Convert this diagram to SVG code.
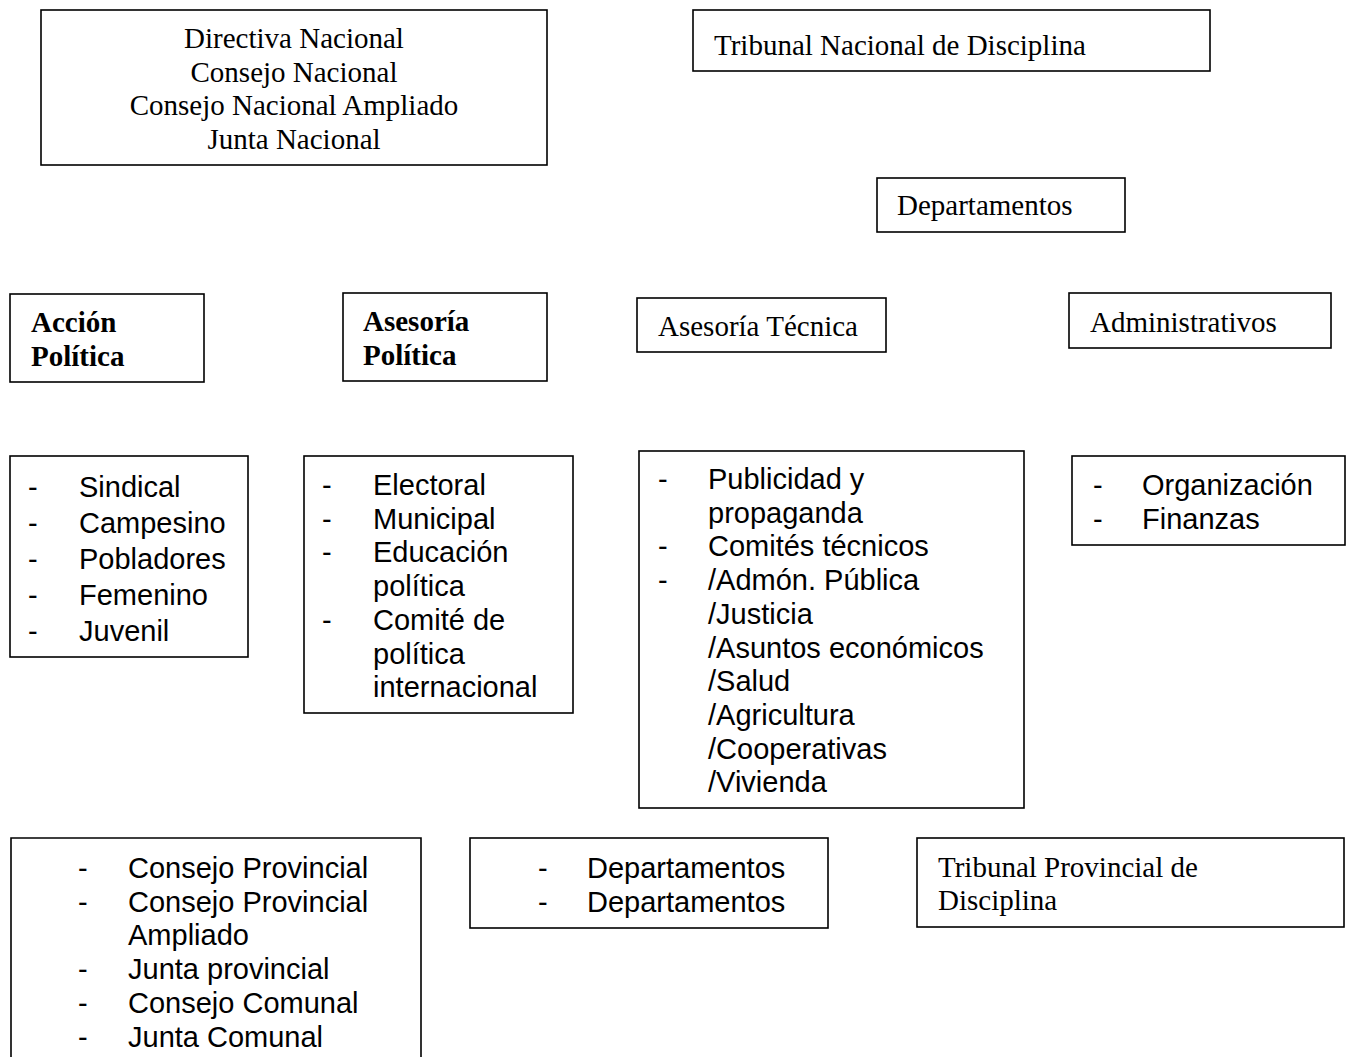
<svg xmlns="http://www.w3.org/2000/svg" width="1346" height="1057" viewBox="0 0 1346 1057">
<style>
.box{fill:#fff;stroke:#000;stroke-width:1.6}
.tr{font-family:"Liberation Serif","Times New Roman",serif;font-size:29px;fill:#000}
.trb{font-family:"Liberation Serif","Times New Roman",serif;font-size:29px;font-weight:bold;fill:#000}
.ar{font-family:"Liberation Sans",Arial,sans-serif;font-size:29px;fill:#000}
.mid{text-anchor:middle}
</style>
<rect width="1346" height="1057" fill="#fff"/>
<g id="connectors"/>
<g id="nacional">
<rect class="box" x="41" y="10" width="506" height="155"/>
<text class="tr mid" x="294" y="48">Directiva Nacional</text>
<text class="tr mid" x="294" y="81.5">Consejo Nacional</text>
<text class="tr mid" x="294" y="115">Consejo Nacional Ampliado</text>
<text class="tr mid" x="294" y="148.5">Junta Nacional</text>
</g>
<g id="tribunal-nacional">
<rect class="box" x="693" y="10" width="517" height="61"/>
<text class="tr" x="714" y="55">Tribunal Nacional de Disciplina</text>
</g>
<g id="departamentos">
<rect class="box" x="877" y="178" width="248" height="54"/>
<text class="tr" x="897" y="215">Departamentos</text>
</g>
<g id="accion-politica">
<rect class="box" x="10" y="294" width="194" height="88"/>
<text class="trb" x="31" y="332">Acción</text>
<text class="trb" x="31" y="366">Política</text>
</g>
<g id="asesoria-politica">
<rect class="box" x="343" y="293" width="204" height="88"/>
<text class="trb" x="363" y="331">Asesoría</text>
<text class="trb" x="363" y="365">Política</text>
</g>
<g id="asesoria-tecnica">
<rect class="box" x="637" y="298" width="249" height="54"/>
<text class="tr" x="658" y="336">Asesoría Técnica</text>
</g>
<g id="administrativos">
<rect class="box" x="1069" y="293" width="262" height="55"/>
<text class="tr" x="1090" y="332">Administrativos</text>
</g>
<g id="accion-lista">
<rect class="box" x="10" y="456" width="238" height="201"/>
<text class="ar" x="28" y="497">-</text><text class="ar" x="79" y="497">Sindical</text>
<text class="ar" x="28" y="533">-</text><text class="ar" x="79" y="533">Campesino</text>
<text class="ar" x="28" y="569">-</text><text class="ar" x="79" y="569">Pobladores</text>
<text class="ar" x="28" y="605">-</text><text class="ar" x="79" y="605">Femenino</text>
<text class="ar" x="28" y="641">-</text><text class="ar" x="79" y="641">Juvenil</text>
</g>
<g id="asesoria-politica-lista">
<rect class="box" x="304" y="456" width="269" height="257"/>
<text class="ar" x="322" y="495">-</text><text class="ar" x="373" y="495">Electoral</text>
<text class="ar" x="322" y="528.7">-</text><text class="ar" x="373" y="528.7">Municipal</text>
<text class="ar" x="322" y="562.4">-</text><text class="ar" x="373" y="562.4">Educación</text>
<text class="ar" x="373" y="596.1">política</text>
<text class="ar" x="322" y="629.8">-</text><text class="ar" x="373" y="629.8">Comité de</text>
<text class="ar" x="373" y="663.5">política</text>
<text class="ar" x="373" y="697.2">internacional</text>
</g>
<g id="asesoria-tecnica-lista">
<rect class="box" x="639" y="451" width="385" height="357"/>
<text class="ar" x="658" y="489">-</text><text class="ar" x="708" y="489">Publicidad y</text>
<text class="ar" x="708" y="522.7">propaganda</text>
<text class="ar" x="658" y="556.4">-</text><text class="ar" x="708" y="556.4">Comités técnicos</text>
<text class="ar" x="658" y="590.1">-</text><text class="ar" x="708" y="590.1">/Admón. Pública</text>
<text class="ar" x="708" y="623.8">/Justicia</text>
<text class="ar" x="708" y="657.5">/Asuntos económicos</text>
<text class="ar" x="708" y="691.2">/Salud</text>
<text class="ar" x="708" y="724.9">/Agricultura</text>
<text class="ar" x="708" y="758.6">/Cooperativas</text>
<text class="ar" x="708" y="792.3">/Vivienda</text>
</g>
<g id="administrativos-lista">
<rect class="box" x="1072" y="456" width="273" height="89"/>
<text class="ar" x="1093" y="495">-</text><text class="ar" x="1142" y="495">Organización</text>
<text class="ar" x="1093" y="529">-</text><text class="ar" x="1142" y="529">Finanzas</text>
</g>
<g id="provincial">
<path class="box" d="M11,1058 V838 H421 V1058"/>
<text class="ar" x="78" y="878">-</text><text class="ar" x="128" y="878">Consejo Provincial</text>
<text class="ar" x="78" y="911.7">-</text><text class="ar" x="128" y="911.7">Consejo Provincial</text>
<text class="ar" x="128" y="945.4">Ampliado</text>
<text class="ar" x="78" y="979.1">-</text><text class="ar" x="128" y="979.1">Junta provincial</text>
<text class="ar" x="78" y="1012.8">-</text><text class="ar" x="128" y="1012.8">Consejo Comunal</text>
<text class="ar" x="78" y="1046.5">-</text><text class="ar" x="128" y="1046.5">Junta Comunal</text>
</g>
<g id="departamentos-provinciales">
<rect class="box" x="470" y="838" width="358" height="90"/>
<text class="ar" x="538" y="878">-</text><text class="ar" x="587" y="878">Departamentos</text>
<text class="ar" x="538" y="912">-</text><text class="ar" x="587" y="912">Departamentos</text>
</g>
<g id="tribunal-provincial">
<rect class="box" x="917" y="838" width="427" height="89"/>
<text class="tr" x="938" y="877">Tribunal Provincial de</text>
<text class="tr" x="938" y="910">Disciplina</text>
</g>
</svg>
